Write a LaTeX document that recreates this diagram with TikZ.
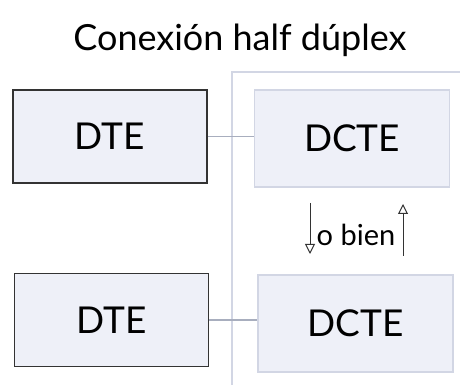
\documentclass[tikz,border=0pt]{standalone}
\usepackage{fontspec}
\setmainfont{Lato}
\usetikzlibrary{arrows.meta,positioning}
\definecolor{boxfill}{HTML}{EEF0F8}
\definecolor{panelline}{HTML}{D2D6E4}
\definecolor{wirecolor}{HTML}{A8AEBE}

\begin{document}
\begin{tikzpicture}[
  x=1pt, y=1pt,
  dte/.style={draw=black!80, line width=1.8pt, fill=boxfill, minimum width=194pt, minimum height=93pt, font=\fontsize{37}{40}\selectfont},
  dcte/.style={draw=panelline, line width=1.4pt, fill=boxfill, minimum width=195pt, minimum height=97pt, font=\fontsize{37}{40}\selectfont},
  wire/.style={draw=wirecolor, line width=1.2pt},
  turn/.style={-{Triangle[open, length=10pt, width=10pt]}, line width=1pt, black!80},
  node distance=46pt and 46pt
]
  \useasboundingbox (0,0) rectangle (460,385);

  % panel edge on the right
  \coordinate (ptop) at (232,313);
  \coordinate (pbot) at (232,0);
  \coordinate (pend) at (460,313);
  \draw[panelline, line width=1.4pt] (pend) -- (ptop) -- (pbot);

  \node[font=\fontsize{36}{40}\selectfont] (title) at (240,345) {Conexión half dúplex};

  \node[dte] (dteA) at (110,248.5) {DTE};
  \node[dcte, right=46pt of dteA.east, anchor=west, yshift=-2pt] (dcteA) {DCTE};
  \node[dte] (dteB) at (111.5,65) {DTE};
  \node[dcte, right=48pt of dteB.east, anchor=west, yshift=-3.5pt] (dcteB) {DCTE};

  \draw[wire] (dteA.east) -- (dteA.east -| dcteA.west);
  \draw[wire] (dteB.east) -- (dteB.east -| dcteB.west);

  % one direction at a time
  \node[font=\fontsize{29}{32}\selectfont] (obien) at (356,150) {o bien};
  \coordinate (dnA) at (310,182);
  \coordinate (dnB) at (310,131);
  \coordinate (upA) at (403,129);
  \coordinate (upB) at (403,181);
  \draw[turn] (dnA) -- (dnB);
  \draw[turn] (upA) -- (upB);
\end{tikzpicture}
\end{document}
